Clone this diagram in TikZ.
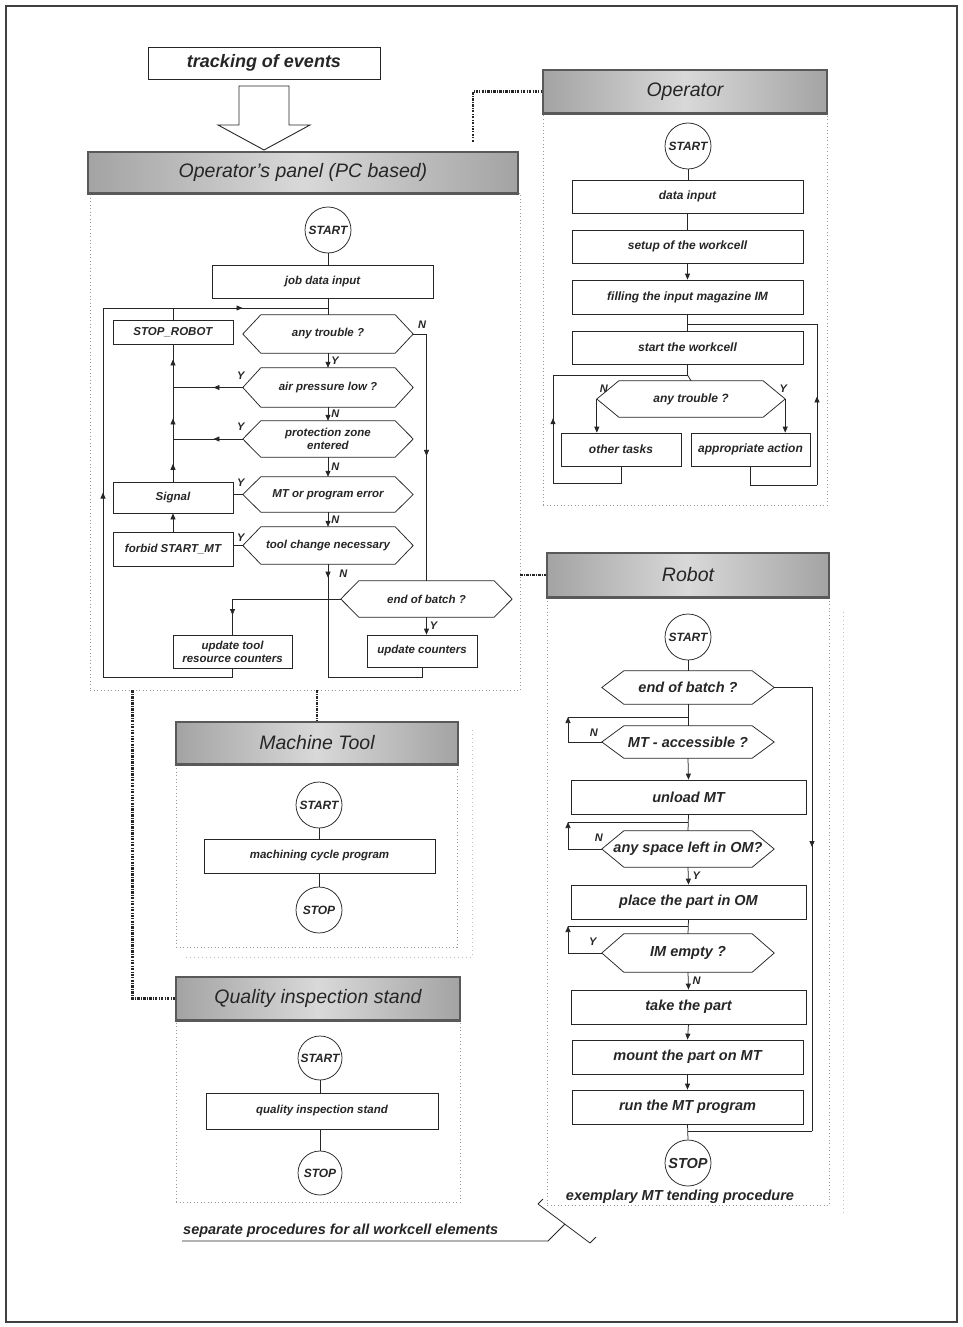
\documentclass[tikz,border=0pt]{standalone}
\usepackage{fontspec}
\setmainfont{Liberation Sans}
\usetikzlibrary{arrows.meta,fit,decorations.markings,calc}
\newcommand\fpanel{\fontsize{11.5}{13}\selectfont\bfseries\itshape}
\newcommand\fopr{\fontsize{12}{13.5}\selectfont\bfseries\itshape}
\newcommand\frob{\fontsize{14.5}{16.5}\selectfont\bfseries\itshape}
\newcommand\fcirc{\fontsize{12}{13}\selectfont\bfseries\itshape}
\newcommand\fhead{\fontsize{19.5}{22}\selectfont\itshape}
\newcommand\flab{\fontsize{11}{12}\selectfont\bfseries\itshape}
\newcommand\ftrack{\fontsize{18}{20}\selectfont\bfseries\itshape}
% box: name, corner1, corner2, font, text
\newcommand\bxn[5]{\node[bx={#2 #3}, label={[font=#4, text=black!85, align=center, inner sep=0pt]center:{#5}}] (#1) {};}
% hexagon: name, corner1, corner2 (inner rectangle), font, text, point depth
\newcommand\hxn[6]{\node[hx={#2 #3}, label={[font=#4, text=black!85, align=center, inner sep=0pt]center:{#5}}] (#1) {};
 \draw[ln] (#1.north west) -- (#1.north east) -- ([xshift=#6]#1.east) coordinate (#1-r) -- (#1.south east) -- (#1.south west) -- ([xshift=-#6]#1.west) coordinate (#1-l) -- cycle;}
% header: name, corner1, corner2, text
\newcommand\hdn[4]{\node[hd={#2 #3}, label={[font=\fhead, text=black!85, inner sep=0pt]center:{#4}}] (#1) {};
 \draw[line width=2.5pt, black!65] (#1.south west) -- (#1.south east);}
\tikzset{
 ln/.style={line width=0.75pt, draw=black!85},
 bx/.style={draw=black!85, line width=0.75pt, inner sep=0pt, fit={#1}},
 hx/.style={inner sep=0pt, fit={#1}},
 ci/.style={circle, draw=black!85, line width=0.75pt, minimum size=46pt, inner sep=0pt, text=black!85, font=\fcirc},
 ar/.style={ln, -{Triangle[length=6pt,width=5pt]}},
 fr/.style={draw=gray!80, line width=0.8pt, dash pattern=on 1pt off 2.5pt, inner sep=0pt, fit={#1}},
 shd/.style={draw=gray!50, line width=0.7pt, dash pattern=on 1pt off 3pt},
 hd/.style={draw=black!65, line width=1.3pt, inner sep=0pt, fit={#1}, left color=gray!72, right color=gray!72, middle color=gray!30},
 dd/.style={line width=2.3pt, draw=black!85, dash pattern=on 2.5pt off 1.3pt on 0.8pt off 1.3pt},
 mk/.style={postaction={decorate}, decoration={markings, mark=at position #1 with {\arrow{Triangle[length=6pt,width=5pt]}}}},
 lb/.style={font=\flab, text=black!85, inner sep=1pt},
}
\begin{document}
\begin{tikzpicture}[x=1pt,y=-1pt]
\useasboundingbox (0,0) rectangle (963,1327);
\fill[white] (0,0) rectangle (963,1327);
\draw[black!75, line width=1.3pt] (6,6) rectangle (957,1322);

% ---------- tracking ----------
\bxn{trk}{(148,47)}{(380,79)}{\ftrack}{tracking of events}
\draw[ln, line width=0.9pt, fill=white] (239,86) -- (289,86) -- (289,125) -- (310,125) -- (264,150) -- (218,125) -- (239,125) -- cycle;

% ---------- Operator's panel ----------
\node[fr={(90,193) (520,690)}] (pf) {};
\hdn{ph}{(88,152)}{(518,193)}{Operator's panel (PC based)}

\node[ci] (ps) at (328,230) {START};
\bxn{job}{(212,265)}{(433,298)}{\fpanel}{job data input}
\hxn{h1}{(261,315)}{(395,353)}{\fpanel}{any trouble ?}{18pt}
\hxn{h2}{(261,368)}{(395,407)}{\fpanel}{air pressure low ?}{18pt}
\hxn{h3}{(261,421)}{(395,457)}{\fpanel}{protection zone\\entered}{18pt}
\hxn{h4}{(261,477)}{(395,512)}{\fpanel}{MT or program error}{18pt}
\hxn{h5}{(261,527)}{(395,564)}{\fpanel}{tool change necessary}{18pt}
\hxn{eb}{(359,581)}{(494,617)}{\fpanel}{end of batch ?}{18pt}
\bxn{srb}{(113,320)}{(233,344)}{\fpanel}{STOP\_ROBOT}
\bxn{sig}{(113,482)}{(233,513)}{\fpanel}{Signal}
\bxn{fbd}{(113,532)}{(233,566)}{\fpanel}{forbid START\_MT}
\bxn{utr}{(173,635)}{(292,668)}{\fpanel}{update tool\\resource counters}
\bxn{uc}{(367,635)}{(477,667)}{\fpanel}{update counters}

\coordinate (bl) at (103,677);
\coordinate (tl) at (103,308);
\coordinate (jn) at (328,308);
\coordinate (cn) at (328,677);

\draw[ln] (ps.south) -- (ps.south |- job.north);
\draw[ln] (job.south -| h1.north) -- (h1.north);
\draw[ln] (utr.south) |- (bl);
\draw[ln, mk=0.5] (bl) -- (tl);
\draw[ln, mk=0.62] (tl) -- (jn);
\draw[ln] (srb.north) -- (srb.north |- tl);
\draw[ar] (h1.south) -- (h2.north) node[lb, midway, right=2pt] {Y};
\draw[ar] (h2.south) -- (h3.north) node[lb, midway, right=2pt] {N};
\draw[ar] (h3.south) -- (h4.north) node[lb, midway, right=2pt] {N};
\draw[ar] (h4.south) -- (h5.north) node[lb, midway, right=2pt] {N};
\draw[ln, mk=0.12] (h5.south) -- (cn) node[lb, pos=0.08, right=10pt] {N};
\draw[ln] (cn) -| (uc.south);
\draw[ln, mk=0.52] (h1-r) -| (eb.north);
\node[lb] at ([shift={(9,-9)}]h1-r) {N};
\draw[ar] (eb.south) -- (eb.south |- uc.north) node[lb, midway, right=2pt] {Y};
\draw[ln] (eb-l) -- (eb-l -| utr.north);
\draw[ln, mk=0.45] (eb-l -| utr.north) -- (utr.north);
\draw[ar] (fbd.north) -- (sig.south);
\draw[ln, postaction={decorate}, decoration={markings,
  mark=at position 0.13 with {\arrow{Triangle[length=6pt,width=5pt]}},
  mark=at position 0.46 with {\arrow{Triangle[length=6pt,width=5pt]}},
  mark=at position 0.89 with {\arrow{Triangle[length=6pt,width=5pt]}}}] (sig.north) -- (srb.south);
\draw[ln, mk=0.42] (h2-l) -- (h2-l -| sig.north);
\draw[ln, mk=0.42] (h3-l) -- (h3-l -| sig.north);
\draw[ln] (h4-l) -- (h4-l -| sig.east);
\draw[ln] (h5-l) -- (h5-l -| fbd.east);
\node[lb] at ([shift={(-2,-12)}]h2-l) {Y};
\node[lb] at ([shift={(-2,-12)}]h3-l) {Y};
\node[lb] at ([shift={(-2,-12)}]h4-l) {Y};
\node[lb] at ([shift={(-2,-8)}]h5-l) {Y};

% ---------- Operator ----------
\node[fr={(543,113) (827,505)}] (of) {};
\hdn{oh}{(543,70)}{(827,113)}{Operator}
\node[ci] (os) at (688,146) {START};
\bxn{o1}{(572,180)}{(803,213)}{\fopr}{data input}
\bxn{o2}{(572,230)}{(803,263)}{\fopr}{setup of the workcell}
\bxn{o3}{(572,280)}{(803,314)}{\fopr}{filling the input magazine IM}
\bxn{o4}{(572,331)}{(803,364)}{\fopr}{start the workcell}
\hxn{o5}{(619,381)}{(763,417)}{\fopr}{any trouble ?}{22pt}
\bxn{ot}{(561,433)}{(681,466)}{\fopr}{other tasks}
\bxn{oa}{(691,433)}{(810,466)}{\fopr}{appropriate action}
\coordinate (orb) at (817,485);
\coordinate (ort) at (817,324);
\coordinate (olt) at (553,375);
\coordinate (olb) at (553,483);
\draw[ln] (os.south) -- (os.south |- o1.north);
\draw[ln] (o1.south) -- (o2.north);
\draw[ar] (o2.south) -- (o3.north);
\draw[ln] (o3.south) -- (o4.north);
\draw[ln] (oa.south) |- (orb);
\draw[ln, mk=0.55] (orb) -- (ort);
\draw[ln] (ort) -- (ort -| o3.south);
\draw[ln] (o4.south) |- (olt);
\draw[ln] (o4.south |- olt) -- (o5.north);
\draw[ln, mk=0.6] (olb) -- (olt);
\draw[ln] (ot.south) |- (olb);
\draw[ar] (o5-l) -- (o5-l |- ot.north);
\draw[ar] (o5-r) -- (o5-r |- oa.north);
\node[lb] at ([shift={(7,-10)}]o5-l) {N};
\node[lb] at ([shift={(-2,-10)}]o5-r) {Y};

% ---------- Robot ----------
\node[fr={(547,597) (829,1205)}] (rf) {};
\draw[shd] (843,612) -- (843,1215);
\hdn{rh}{(547,553)}{(829,597)}{Robot}
\node[ci] (rs) at (688,637) {START};
\hxn{r1}{(624,671)}{(752,704)}{\frob}{end of batch ?}{22pt}
\hxn{r2}{(624,726)}{(752,758)}{\frob}{MT - accessible ?}{22pt}
\bxn{r3}{(571,780)}{(806,814)}{\frob}{unload MT}
\hxn{r4}{(624,831)}{(752,867)}{\frob}{any space left in OM?}{22pt}
\bxn{r5}{(571,885)}{(806,919)}{\frob}{place the part in OM}
\hxn{r6}{(624,934)}{(752,972)}{\frob}{IM empty ?}{22pt}
\bxn{r7}{(571,990)}{(806,1024)}{\frob}{take the part}
\bxn{r8}{(572,1040)}{(803,1074)}{\frob}{mount the part on MT}
\bxn{r9}{(572,1090)}{(803,1124)}{\frob}{run the MT program}
\node[ci, font=\frob] (rst) at (688,1163) {STOP};
\coordinate (q1) at (568,717);
\coordinate (q2) at (568,822);
\coordinate (q3) at (568,926);
\coordinate (rr2) at (812,1131);
\draw[ln] (rs.south) -- (r1.north);
\draw[ln] (r1.south) -- (r2.north);
\draw[ar] (r2.south) -- (r3.north);
\draw[ln] (r3.south) -- (r4.north);
\draw[ar] (r4.south) -- (r5.north) node[lb, midway, right=3pt] {Y};
\draw[ln] (r5.south) -- (r6.north);
\draw[ar] (r6.south) -- (r7.north) node[lb, midway, right=3pt] {N};
\draw[ar] (r7.south) -- (r8.north);
\draw[ar] (r8.south) -- (r9.north);
\draw[ln] (r9.south) -- (rst.north);
\draw[ar] (r2-l) -| (q1);
\draw[ln] (q1) -- (q1 -| r2.north);
\draw[ar] (r4-l) -| (q2);
\draw[ln] (q2) -- (q2 -| r4.north);
\draw[ar] (r6-l) -| (q3);
\draw[ln] (q3) -- (q3 -| r6.north);
\node[lb] at ([shift={(-8,-9)}]r2-l) {N};
\node[lb] at ([shift={(-3,-11)}]r4-l) {N};
\node[lb] at ([shift={(-9,-11)}]r6-l) {Y};
\draw[ln, mk=0.41] (r1-r) -| (rr2);
\draw[ln] (rr2) -- (rr2 -| rst.north);
\node[font=\frob, text=black!85, fill=white, inner sep=1pt] (ex) at (680,1197) {exemplary MT tending procedure};

% ---------- Machine Tool ----------
\node[fr={(176,764) (457,947)}] (mf) {};
\draw[shd] (472,730) -- (472,957) -- (185,957);
\hdn{mh}{(176,722)}{(458,764)}{Machine Tool}
\node[ci] (ms) at (319,805) {START};
\bxn{mb}{(204,839)}{(435,873)}{\fpanel}{machining cycle program}
\node[ci] (mst) at (319,910) {STOP};
\draw[ln] (ms.south) -- (ms.south |- mb.north);
\draw[ln] (mb.south -| mst.north) -- (mst.north);

% ---------- Quality ----------
\node[fr={(176,1020) (460,1202)}] (qf) {};
\hdn{qh}{(176,977)}{(460,1020)}{Quality inspection stand}
\node[ci, minimum size=44pt] (qs) at (320,1058) {START};
\bxn{qb}{(206,1093)}{(438,1129)}{\fpanel}{quality inspection stand}
\node[ci, minimum size=44pt] (qst) at (320,1173) {STOP};
\draw[ln] (qs.south) -- (qs.south |- qb.north);
\draw[ln] (qb.south -| qst.north) -- (qst.north);

% ---------- dash-dot connectors ----------
\coordinate (c1) at (473,142);
\draw[dd] (c1) |- (oh.west);
\draw[dd] (pf.south -| mh.north) -- (mh.north);
\draw[dd] ([xshift=43pt]pf.south west) |- (qh.west);
\draw[dd] (pf.east |- rh.west) -- (rh.west);

% ---------- bottom annotation ----------
\node[font=\frob, text=black!85, anchor=west, inner sep=1pt] (sep) at (182,1231) {separate procedures for all workcell elements};
\coordinate (ul) at (548,1241);
\coordinate (d1) at (538,1204);
\coordinate (d2) at (590,1243);
\coordinate (dm) at (565,1224);
\draw[ln] (sep.west |- ul) -- (ul) -- (dm);
\draw[ln] (d1) -- (d2);
\draw[ln] (d1) -- ++(5,-5);
\draw[ln] (d2) -- ++(6,-6);
\end{tikzpicture}
\end{document}
